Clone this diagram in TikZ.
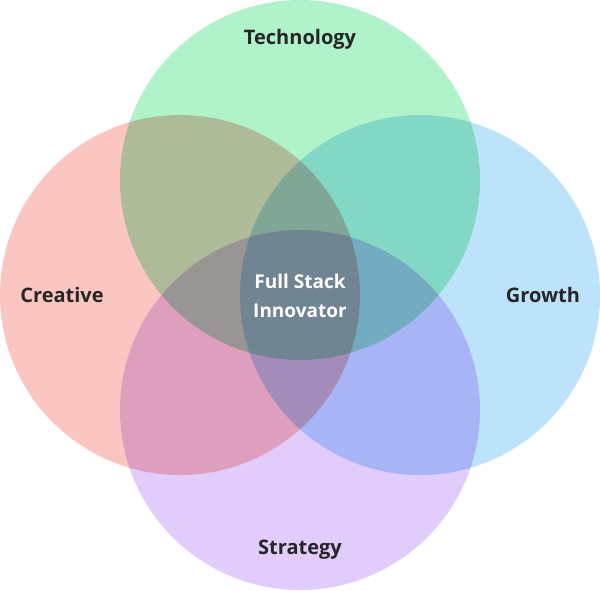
\documentclass[tikz,border=0pt]{standalone}
\usepackage{fontspec}
\setmainfont{Open Sans}
\begin{document}
\begin{tikzpicture}[x=1pt,y=-1pt,
  lab/.style={font=\bfseries\fontsize{20}{24}\selectfont, text=black!85, align=center},
  ring/.style={blend mode=multiply}]
\useasboundingbox (0,0) rectangle (600,590);
\begin{scope}[transparency group]
\fill[ring, fill={rgb,255:red,176;green,242;blue,201}] (300,180) circle (180);
\fill[ring, fill={rgb,255:red,251;green,198;blue,193}] (180,295) circle (180);
\fill[ring, fill={rgb,255:red,189;green,227;blue,250}] (420,295) circle (180);
\fill[ring, fill={rgb,255:red,226;green,204;blue,251}] (300,410) circle (180);
\end{scope}
\node[lab] (t) at (300,39) {Technology};
\node[lab] (c) at (62,295) {Creative};
\node[lab] (g) at (543,295) {Growth};
\node[lab] (s) at (300,550) {Strategy};
\node[lab, text=white, font=\bfseries\fontsize{19}{29}\selectfont] (f) at (300,296) {Full Stack\\Innovator};
\end{tikzpicture}
\end{document}
